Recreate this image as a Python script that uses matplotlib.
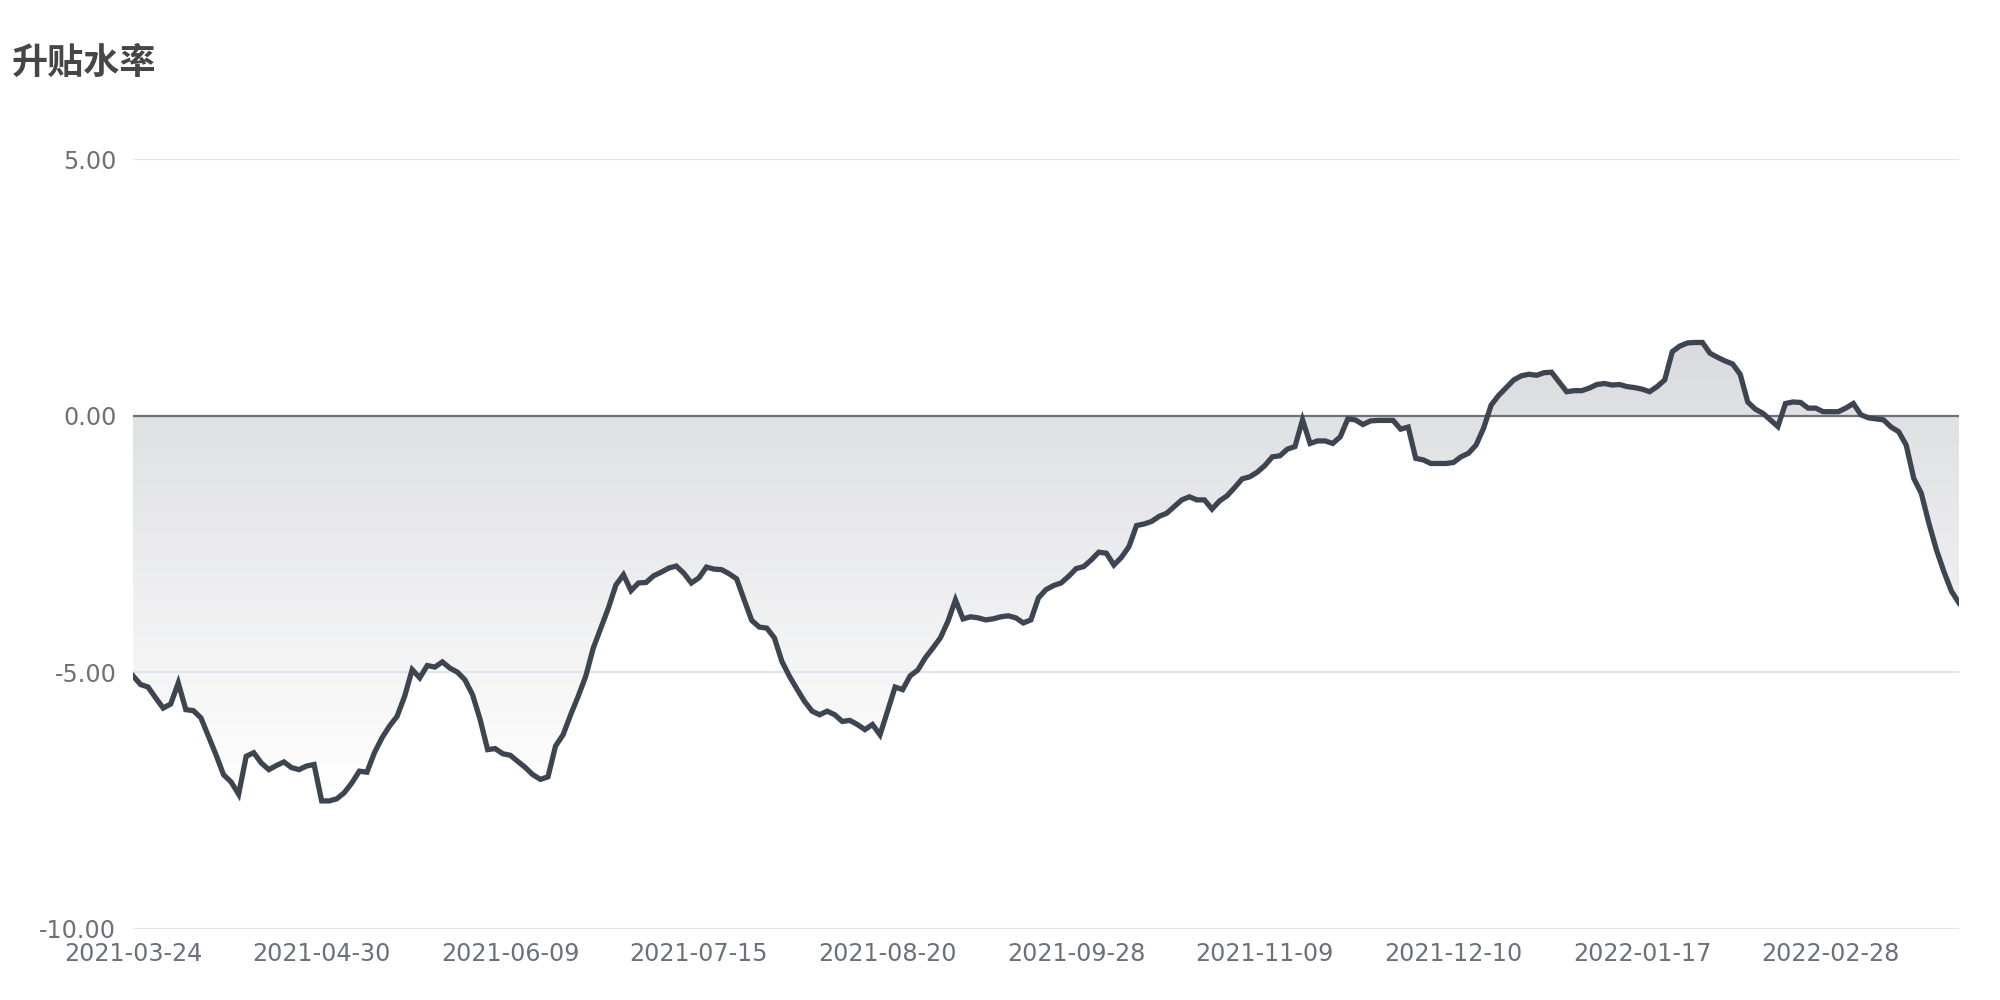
import numpy as np
import matplotlib
matplotlib.use('Agg')
import matplotlib.pyplot as plt
from matplotlib.patches import PathPatch

# premium/discount rate, one value per trading day
premium_q2 = [-5.07, -5.24, -5.29, -5.50, -5.70, -5.62, -5.21, -5.73, -5.75, -5.89,
              -6.25, -6.61, -7.00, -7.14, -7.38, -6.64, -6.57, -6.77, -6.90, -6.82,
              -6.75, -6.86, -6.90, -6.83, -6.80, -7.51, -7.51, -7.47, -7.35, -7.16,
              -6.93, -6.95, -6.57, -6.28, -6.05, -5.86, -5.47, -4.95, -5.11, -4.87,
              -4.90, -4.80, -4.92, -5.00, -5.15, -5.44, -5.92, -6.51, -6.49, -6.59,
              -6.62, -6.74, -6.86, -7.00, -7.09, -7.04, -6.44, -6.22, -5.83, -5.47]
premium_q3 = [-5.08, -4.53, -4.14, -3.75, -3.30, -3.10, -3.41, -3.26, -3.25, -3.12,
              -3.05, -2.97, -2.93, -3.07, -3.26, -3.16, -2.95, -2.99, -3.00, -3.08,
              -3.18, -3.59, -3.99, -4.12, -4.14, -4.33, -4.79, -5.08, -5.33, -5.57,
              -5.76, -5.83, -5.76, -5.83, -5.96, -5.94, -6.02, -6.12, -6.02, -6.22,
              -5.76, -5.29, -5.34, -5.07, -4.96, -4.72, -4.53, -4.33, -4.01, -3.59,
              -3.96, -3.92, -3.94, -3.98, -3.96, -3.92, -3.90, -3.94, -4.04, -3.98]
premium_q4 = [-3.55, -3.39, -3.31, -3.26, -3.13, -2.98, -2.94, -2.81, -2.66, -2.68,
              -2.91, -2.76, -2.55, -2.14, -2.11, -2.06, -1.96, -1.90, -1.77, -1.64,
              -1.58, -1.64, -1.64, -1.82, -1.66, -1.56, -1.40, -1.23, -1.19, -1.10,
              -0.97, -0.80, -0.78, -0.65, -0.60, -0.08, -0.54, -0.49, -0.49, -0.54,
              -0.41, -0.06, -0.08, -0.17, -0.10, -0.09, -0.09, -0.09, -0.26, -0.22,
              -0.83, -0.86, -0.93, -0.93, -0.93, -0.91, -0.80, -0.73, -0.57, -0.24]
premium_q1 = [0.21, 0.40, 0.55, 0.70, 0.78, 0.81, 0.79, 0.84, 0.85, 0.66,
              0.47, 0.49, 0.49, 0.54, 0.61, 0.63, 0.60, 0.61, 0.57, 0.55,
              0.52, 0.47, 0.57, 0.70, 1.25, 1.36, 1.42, 1.43, 1.43, 1.22,
              1.14, 1.07, 1.01, 0.81, 0.27, 0.13, 0.05, -0.08, -0.21, 0.24,
              0.27, 0.26, 0.15, 0.15, 0.08, 0.08, 0.08, 0.15, 0.24, 0.02,
              -0.04, -0.06, -0.08, -0.22, -0.31, -0.57, -1.22, -1.51, -2.09, -2.61,
              -3.04, -3.42, -3.65]

tick_labels = ['2021-03-24', '2021-04-30', '2021-06-09', '2021-07-15', '2021-08-20',
               '2021-09-28', '2021-11-09', '2021-12-10', '2022-01-17', '2022-02-28']
tick_step = 25
y_ticks = [-10, -5, 0, 5]
y_tick_labels = ['-10.00', '-5.00', '0.00', '5.00']

premium = np.array(premium_q2 + premium_q3 + premium_q4 + premium_q1)
x = np.arange(len(premium))

fig = plt.figure(figsize=(20, 10), dpi=100)
ax = fig.add_axes([0.0665, 0.0714, 0.913, 0.7692])

# gradient fill between line and zero
poly = ax.fill_between(x, premium, 0, color='none', lw=0)
grad = np.linspace(0, 1, 256).reshape(-1, 1)
top = np.array([218, 219, 222]) / 255
bot = np.array([255, 255, 255]) / 255
img = top + grad[..., None] * (bot - top)
im = ax.imshow(img, aspect='auto', origin='upper',
               extent=[0, len(premium) - 1, premium.min(), premium.max()], zorder=1)
clip = PathPatch(poly.get_paths()[0], transform=ax.transData, facecolor='none', edgecolor='none')
ax.add_patch(clip)
im.set_clip_path(clip)

for yv in [-10, -5, 5]:
    ax.axhline(yv, color='#DFE4EE', lw=1.6, zorder=2)
ax.axhline(0, color='#6E7079', lw=1.6, zorder=2)

ax.plot(x, premium, color='#3D4650', lw=3.8, zorder=3, solid_joinstyle='miter')

ax.set_xlim(0, len(premium) - 1)
ax.set_ylim(-10, 5)
ax.set_xticks(x[::tick_step][:len(tick_labels)])
ax.set_xticklabels(tick_labels)
ax.set_yticks(y_ticks)
ax.set_yticklabels(y_tick_labels)
ax.tick_params(axis='both', length=0, labelsize=17.2, labelcolor='#6E7079')
ax.tick_params(axis='x', pad=10)
ax.tick_params(axis='y', pad=12)
for s in ax.spines.values():
    s.set_visible(False)

fig.text(0.006, 0.937, '升贴水率', fontsize=26, fontweight='bold', color='#464646',
         family=['Noto Sans CJK SC', 'DejaVu Sans'], va='center', ha='left')

fig.savefig('out.png', dpi=100)
